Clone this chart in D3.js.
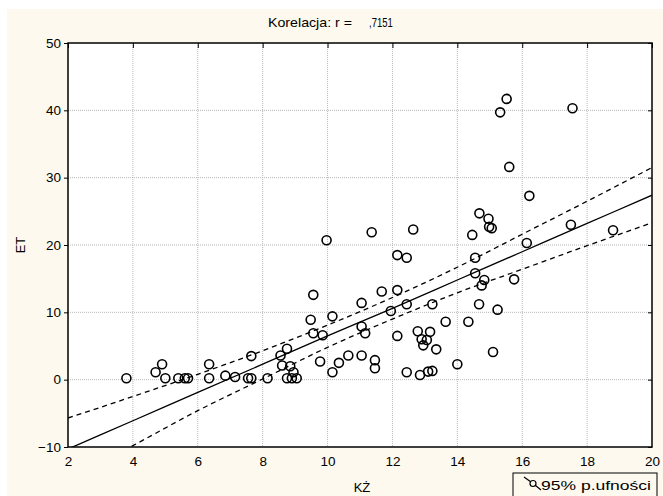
<!DOCTYPE html>
<html>
<head>
<meta charset="utf-8">
<script src="https://cdn.jsdelivr.net/npm/d3@7"></script>
<style>
  html, body { margin: 0; padding: 0; background: #fff; }
  text { font-family: "Liberation Sans", Arial, sans-serif; }
</style>
</head>
<body>
<script>
// scatter points
const kz = [3.8, 4.7, 4.9, 5.0, 5.4, 5.6, 5.7, 6.35, 6.35, 6.85, 7.15, 7.55, 7.65, 7.65,
  8.15, 8.55, 8.75, 8.85, 8.75, 8.9, 9.05, 8.95, 8.6, 9.97, 11.36, 12.64, 12.15, 12.44,
  9.56, 11.67, 12.15, 11.05, 12.44, 11.95, 9.48, 10.15, 9.56, 9.85, 11.05, 11.16, 12.15,
  12.78, 12.9, 13.06, 12.95, 13.16, 9.77, 10.15, 10.35, 10.64, 11.05, 11.46, 11.46, 12.44,
  12.85, 13.1, 14.68, 14.96, 14.98, 15.06, 14.46, 16.14, 14.55, 17.5, 14.55, 14.83, 14.75,
  15.75, 13.23, 14.67, 15.24, 13.64, 14.34, 13.35, 15.1, 14.0, 13.23, 15.52, 15.32, 17.55,
  15.6, 16.22, 18.8]
const et = [0.2, 1.1, 2.3, 0.2, 0.2, 0.2, 0.2, 2.3, 0.2, 0.6, 0.4, 0.2, 0.2, 3.5,
  0.2, 3.6, 4.6, 2.0, 0.2, 0.2, 0.2, 1.1, 2.1, 20.7, 21.9, 22.3, 18.5, 18.1,
  12.6, 13.1, 13.3, 11.4, 11.2, 10.2, 8.9, 9.4, 6.9, 6.6, 7.9, 6.9, 6.5,
  7.2, 6.0, 5.9, 5.1, 7.1, 2.7, 1.1, 2.5, 3.6, 3.6, 2.9, 1.7, 1.1,
  0.7, 1.2, 24.7, 23.9, 22.7, 22.5, 21.5, 20.3, 18.1, 23.0, 15.8, 14.8, 14.0,
  14.9, 11.2, 11.2, 10.4, 8.6, 8.6, 4.5, 4.1, 2.3, 1.3, 41.7, 39.7, 40.3,
  31.6, 27.3, 22.2]

// regression line and 95% band, read at the x ticks
const bandX = [2, 4, 6, 8, 10, 12, 14, 16, 18, 20]
const fitY = [-10.3, -6.1, -1.9, 2.3, 6.5, 10.6, 14.8, 19.0, 23.2, 27.4]
const upperY = [-5.7, -2.5, 0.8, 4.3, 8.1, 12.2, 16.7, 21.6, 26.5, 31.5]
const lowerY = [-14.9, -9.8, -4.6, 0.1, 4.8, 9.0, 12.9, 16.4, 19.9, 23.3]

const xTicks = [2, 4, 6, 8, 10, 12, 14, 16, 18, 20]
const yTicks = [-10, 0, 10, 20, 30, 40, 50]

const W = 663, H = 496
const m = { left: 68, right: 11, top: 43, bottom: 49 }
const cream = '#fdf9ee'

const svg = d3.select('body').append('svg').attr('width', W).attr('height', H)

svg.append('rect').attr('x', 7).attr('y', 9).attr('width', W - 7).attr('height', H - 9)
  .attr('fill', cream)

const x = d3.scaleLinear().domain([2, 20]).range([m.left, W - m.right])
const y = d3.scaleLinear().domain([-10, 50]).range([H - m.bottom, m.top])

svg.append('rect').attr('x', x(2)).attr('y', y(50))
  .attr('width', x(20) - x(2)).attr('height', y(-10) - y(50)).attr('fill', '#fff')

svg.append('clipPath').attr('id', 'plot').append('rect')
  .attr('x', x(2)).attr('y', y(50)).attr('width', x(20) - x(2)).attr('height', y(-10) - y(50))

// dotted grid
const grid = svg.append('g').attr('stroke', '#b8b8b8').attr('stroke-dasharray', '1,1')
grid.selectAll('.gx').data(xTicks.slice(1, -1)).enter().append('line')
  .attr('x1', d => x(d)).attr('x2', d => x(d)).attr('y1', y(50)).attr('y2', y(-10))
grid.selectAll('.gy').data(yTicks.slice(1, -1)).enter().append('line')
  .attr('y1', d => y(d)).attr('y2', d => y(d)).attr('x1', x(2)).attr('x2', x(20))

const plot = svg.append('g').attr('clip-path', 'url(#plot)')

const pts = d3.range(bandX.length)
const lineOf = arr => d3.line().x(i => x(bandX[i])).y(i => y(arr[i])).curve(d3.curveMonotoneX)

plot.append('path').attr('d', lineOf(fitY)(pts))
  .attr('fill', 'none').attr('stroke', '#000').attr('stroke-width', 1.3)
plot.append('path').attr('d', lineOf(upperY)(pts))
  .attr('fill', 'none').attr('stroke', '#000').attr('stroke-width', 1.3).attr('stroke-dasharray', '5,4')
plot.append('path').attr('d', lineOf(lowerY)(pts))
  .attr('fill', 'none').attr('stroke', '#000').attr('stroke-width', 1.3).attr('stroke-dasharray', '5,4')

plot.selectAll('circle').data(kz).enter().append('circle')
  .attr('cx', d => x(d)).attr('cy', (d, i) => y(et[i])).attr('r', 4.5)
  .attr('fill', 'none').attr('stroke', '#000').attr('stroke-width', 1.6)

// axes
const fmt = d3.format('d')
svg.append('g').attr('transform', `translate(${x(2)},0)`)
  .call(d3.axisLeft(y).tickValues(yTicks).tickSize(4).tickPadding(3).tickFormat(fmt))
svg.append('g').attr('transform', `translate(0,${y(-10)})`)
  .call(d3.axisBottom(x).tickValues(xTicks).tickSize(0).tickPadding(9).tickFormat(fmt))
svg.append('g').attr('transform', `translate(0,${y(50)})`)
  .call(d3.axisBottom(x).tickValues(xTicks).tickSize(5).tickFormat(''))
svg.append('g').attr('transform', `translate(${x(20)},0)`)
  .call(d3.axisLeft(y).tickValues(yTicks).tickSize(4).tickFormat(''))
svg.selectAll('.domain').remove()
svg.selectAll('.tick text').attr('font-size', 13.5).attr('fill', '#000')
  .style('font-family', '"Liberation Sans", Arial, sans-serif')
svg.selectAll('.tick line').attr('stroke', '#000')

svg.append('rect').attr('x', x(2)).attr('y', y(50))
  .attr('width', x(20) - x(2)).attr('height', y(-10) - y(50))
  .attr('fill', 'none').attr('stroke', '#000').attr('stroke-width', 1.5)

// title, the value is clipped at the right like the original
svg.append('text').attr('x', 268).attr('y', 27).attr('font-size', 13)
  .attr('textLength', 84).attr('lengthAdjust', 'spacingAndGlyphs').text('Korelacja: r =')
svg.append('clipPath').attr('id', 'ttl').append('rect')
  .attr('x', 360).attr('y', 8).attr('width', 33).attr('height', 24)
svg.append('text').attr('clip-path', 'url(#ttl)')
  .attr('x', 369).attr('y', 27).attr('font-size', 13)
  .attr('textLength', 29).attr('lengthAdjust', 'spacingAndGlyphs').text(',71515')

svg.append('text').attr('x', 362).attr('y', 492).attr('text-anchor', 'middle')
  .attr('font-size', 13).text('KŻ')
svg.append('text').attr('transform', `translate(25,${y(20)}) rotate(-90)`)
  .attr('text-anchor', 'middle').attr('font-size', 13).text('ET')

// legend
const lg = svg.append('g')
lg.append('rect').attr('x', 513).attr('y', 473).attr('width', 144).attr('height', 30)
  .attr('fill', cream).attr('stroke', '#000').attr('stroke-width', 1)
lg.append('path').attr('d', 'M524,477 L531,482 M535,485 L541,490')
  .attr('stroke', '#000').attr('fill', 'none').attr('stroke-width', 1.2)
lg.append('circle').attr('cx', 533).attr('cy', 483.5).attr('r', 3)
  .attr('fill', 'none').attr('stroke', '#000').attr('stroke-width', 1.2)
lg.append('text').attr('x', 541).attr('y', 490).attr('font-size', 13.5)
  .attr('textLength', 110).attr('lengthAdjust', 'spacingAndGlyphs').text('95% p.ufności')
</script>
</body>
</html>
